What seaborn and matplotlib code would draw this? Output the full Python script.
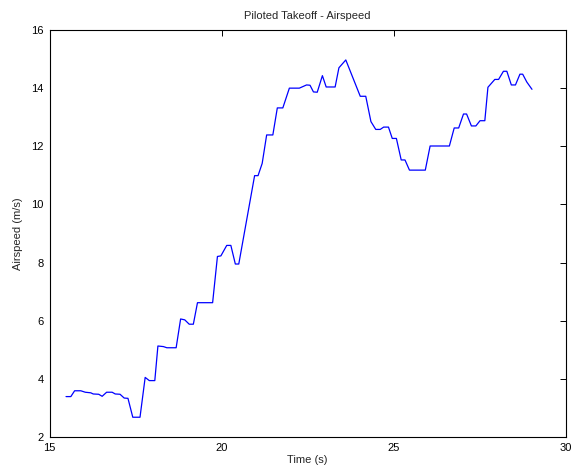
import matplotlib
matplotlib.use("Agg")
import matplotlib.pyplot as plt
import seaborn as sns
import pandas as pd

time_s = [15.48, 15.62, 15.73, 15.91, 16.04, 16.20, 16.27, 16.43, 16.53, 16.66,
          16.82, 16.91, 17.05, 17.17, 17.28, 17.42, 17.63, 17.78, 17.90, 18.06,
          18.15, 18.31, 18.41, 18.68, 18.81, 18.93, 19.06, 19.18, 19.30, 19.74,
          19.88, 19.98, 20.15, 20.27, 20.40, 20.50, 20.96, 21.06, 21.18, 21.31,
          21.49, 21.62, 21.78, 21.97, 22.26, 22.47, 22.57, 22.67, 22.78, 22.93,
          23.04, 23.30, 23.41, 23.61, 24.03, 24.19, 24.34, 24.48, 24.61, 24.71,
          24.85, 24.96, 25.08, 25.22, 25.33, 25.46, 25.92, 26.06, 26.62, 26.76,
          26.89, 27.03, 27.12, 27.26, 27.39, 27.51, 27.65, 27.74, 27.94, 28.05,
          28.19, 28.29, 28.42, 28.54, 28.67, 28.75, 28.87, 29.02]
airspeed = [3.39, 3.39, 3.59, 3.59, 3.54, 3.52, 3.48, 3.47, 3.40, 3.54,
            3.54, 3.48, 3.47, 3.34, 3.33, 2.68, 2.68, 4.05, 3.94, 3.94,
            5.13, 5.11, 5.07, 5.07, 6.06, 6.03, 5.88, 5.88, 6.62, 6.62,
            8.21, 8.23, 8.59, 8.59, 7.95, 7.95, 10.99, 10.99, 11.41, 12.39,
            12.39, 13.32, 13.32, 14.00, 14.00, 14.11, 14.10, 13.87, 13.86, 14.43,
            14.04, 14.04, 14.70, 14.97, 13.72, 13.72, 12.85, 12.58, 12.58, 12.66,
            12.66, 12.27, 12.27, 11.53, 11.53, 11.18, 11.18, 12.01, 12.01, 12.63,
            12.63, 13.11, 13.11, 12.70, 12.70, 12.88, 12.88, 14.03, 14.30, 14.30,
            14.58, 14.58, 14.11, 14.11, 14.48, 14.48, 14.21, 13.96]
x_ticks = [15, 20, 25, 30]
y_ticks = [2, 4, 6, 8, 10, 12, 14, 16]

sns.set_style("white")
plt.rcParams['font.family'] = ['Liberation Sans', 'DejaVu Sans']

df = pd.DataFrame({"Time (s)": time_s, "Airspeed (m/s)": airspeed})

fig = plt.figure(figsize=(5.74, 4.70), dpi=100)
ax = fig.add_axes([49.5 / 574, 1 - 437 / 470, (565.7 - 49.5) / 574, (437 - 30) / 470])
sns.lineplot(data=df, x="Time (s)", y="Airspeed (m/s)", ax=ax, color="#0000ff",
             linewidth=0.9, estimator=None, sort=False)

ax.set_xlim(15, 30)
ax.set_ylim(2, 16)
ax.set_xticks(x_ticks)
ax.set_yticks(y_ticks)
ax.tick_params(direction="in", length=4, width=0.7, top=True, right=True,
               labelsize=8, colors="black", pad=4)
for s in ax.spines.values():
    s.set_color("black")
    s.set_linewidth(0.8)
ax.set_xlabel("Time (s)", fontsize=8, labelpad=2)
ax.set_ylabel("Airspeed (m/s)", fontsize=8, labelpad=6)
ax.set_title("Piloted Takeoff - Airspeed", fontsize=8, pad=8)

fig.savefig("out.png", dpi=100, facecolor="white")
